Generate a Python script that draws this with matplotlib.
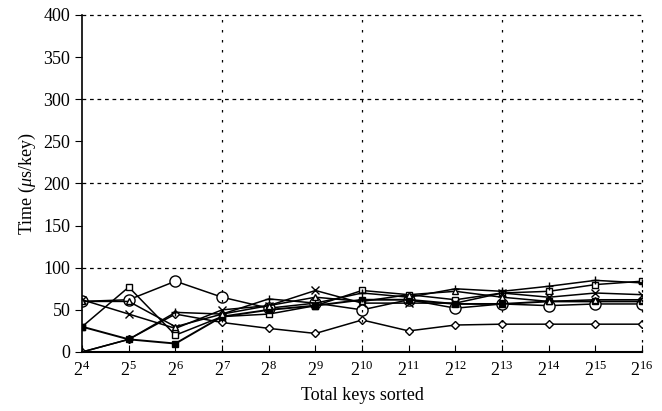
import matplotlib
matplotlib.use("Agg")
from matplotlib import pyplot as plt

# datos
exps = list(range(4, 17))
serie_circ = [60, 62, 84, 65, 52, 58, 50, 62, 52, 57, 55, 57, 57]
serie_cuad = [30, 77, 20, 42, 45, 55, 73, 68, 62, 70, 72, 80, 84]
serie_x = [62, 45, 28, 50, 55, 73, 58, 58, 58, 70, 65, 70, 68]
serie_diam = [0, 15, 45, 35, 28, 22, 38, 25, 32, 33, 33, 33, 33]
serie_lleno = [30, 15, 10, 42, 50, 55, 62, 62, 57, 57, 60, 60, 60]
serie_mas = [0, 15, 47, 45, 63, 58, 70, 65, 75, 72, 78, 85, 82]
serie_tri = [60, 60, 30, 45, 55, 65, 60, 68, 72, 65, 60, 62, 62]

plt.rcParams['font.family'] = ['Liberation Serif', 'DejaVu Serif']
plt.rcParams['mathtext.fontset'] = 'custom'
plt.rcParams['mathtext.rm'] = 'Liberation Serif'
plt.rcParams['mathtext.it'] = 'Liberation Serif:italic'

fig = plt.figure(figsize=(6.62, 4.11), dpi=100)
ax = fig.add_axes([0.124, 0.1436, 0.846, 0.82])

kw = dict(color='black', lw=1.1, mfc='white', mew=1.0)
ax.plot(exps, serie_circ, marker='o', ms=8, **kw)
ax.plot(exps, serie_cuad, marker='s', ms=5, **kw)
ax.plot(exps, serie_x, marker='x', ms=6, **kw)
ax.plot(exps, serie_diam, marker='D', ms=4, **kw)
ax.plot(exps, serie_lleno, marker='s', ms=5, color='black', lw=1.4, mfc='black')
ax.plot(exps, serie_mas, marker='+', ms=6, **kw)
ax.plot(exps, serie_tri, marker='^', ms=4, **kw)

ax.set_xlim(4, 16)
ax.set_ylim(0, 400)
ax.set_xticks(exps)
ax.set_xticklabels([r'$2^{%d}$' % e for e in exps])
ax.set_yticks(range(0, 401, 50))
for y in [100, 200, 300, 400]:
    ax.axhline(y, color='black', lw=0.9, ls=(0, (3, 3)), clip_on=False)
for x in [7, 10, 13, 16]:
    ax.axvline(x, color='black', lw=0.9, ls=(0, (2, 6)), clip_on=False)

ax.spines['top'].set_visible(False)
ax.spines['right'].set_visible(False)
ax.spines['left'].set_linewidth(1.2)
ax.spines['bottom'].set_linewidth(1.5)
ax.tick_params(axis='y', direction='out', length=5, labelsize=13)
ax.tick_params(axis='x', direction='in', length=5, labelsize=13, pad=6)

ax.set_xlabel('Total keys sorted', fontsize=13, labelpad=5)
ax.set_ylabel(r'Time ($\mu$s/key)', fontsize=13)

fig.savefig('out.png', dpi=100)
